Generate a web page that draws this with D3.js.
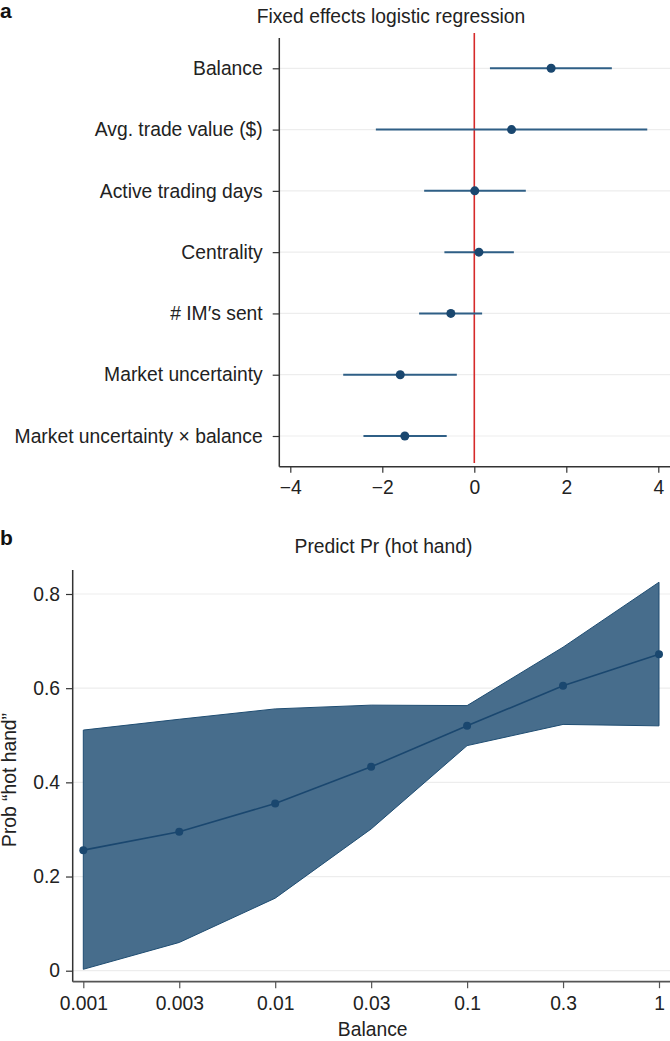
<!DOCTYPE html>
<html><head><meta charset="utf-8">
<script src="https://cdn.jsdelivr.net/npm/d3@7"></script>
<style>
body{margin:0;background:#fff;}
svg{display:block;font-family:"Liberation Sans",Arial,Helvetica,sans-serif;}
</style></head>
<body><svg id="c" width="670" height="1041"></svg>
<script>
// Panel a data
const variables = ["Balance","Avg. trade value ($)","Active trading days","Centrality","# IM\u2032s sent","Market uncertainty","Market uncertainty \u00d7 balance"];
const coef  = [1.67, 0.81, 0.01, 0.10, -0.51, -1.61, -1.51];
const ciLow = [0.34, -2.14, -1.09, -0.65, -1.20, -2.85, -2.41];
const ciHigh= [2.99, 3.76, 1.12, 0.86, 0.17, -0.38, -0.60];
const coefTicks = [-4,-2,0,2,4];

// Panel b data
const balanceLevels = ["0.001","0.003","0.01","0.03","0.1","0.3","1"];
const probHot = [0.256,0.295,0.355,0.433,0.520,0.605,0.672];
const probUpper = [0.511,0.534,0.556,0.564,0.563,0.687,0.825];
const probLower = [0.003,0.060,0.154,0.301,0.478,0.523,0.520];
const probTicks = [0,0.2,0.4,0.6,0.8];

const svg = d3.select("#c");
const FS = 19.3;
const txt = "#222";
const navy = "#1a476f";
const grid = "#ededed";

// ---------- Panel a ----------
const xa = d3.scaleLinear().domain([-4,4]).range([290.3,658.3]);
const ya = d3.scalePoint().domain(variables).range([68.3,436]);
const aLeft = 279.3, aTop = 38, aBottom = 466.7, aRight = 670;

svg.append("text").attr("x",0).attr("y",18).attr("font-size",21).attr("font-weight","bold").attr("fill","#111").text("a");
svg.append("text").attr("x",391).attr("y",23).attr("text-anchor","middle").attr("font-size",FS).attr("fill",txt).text("Fixed effects logistic regression");

const ga = svg.append("g");
ga.selectAll("line.grid").data(variables).join("line")
  .attr("x1",aLeft).attr("x2",aRight).attr("y1",d=>ya(d)).attr("y2",d=>ya(d))
  .attr("stroke",grid).attr("stroke-width",1.2);

// red zero line
ga.append("line").attr("x1",xa(0)).attr("x2",xa(0)).attr("y1",33).attr("y2",463)
  .attr("stroke","#d62a2a").attr("stroke-width",1.6);

// y axis
const yAxA = d3.axisLeft(ya).tickSize(6.6).tickPadding(10);
const gya = ga.append("g").attr("transform",`translate(${aLeft},0)`).call(yAxA);
gya.select(".domain").remove();
gya.selectAll(".tick line").attr("stroke","#333").attr("stroke-width",1.2);
gya.selectAll(".tick text").attr("font-size",FS).attr("fill",txt).attr("font-family","Liberation Sans, Arial, sans-serif");
ga.append("line").attr("x1",aLeft).attr("x2",aLeft).attr("y1",aTop).attr("y2",aBottom).attr("stroke","#333").attr("stroke-width",1.5);

// x axis
const xAxA = d3.axisBottom(xa).tickValues(coefTicks).tickSize(6).tickPadding(8).tickFormat(d=> d<0 ? "\u2212"+Math.abs(d) : String(d));
const gxa = ga.append("g").attr("transform",`translate(0,${aBottom})`).call(xAxA);
gxa.select(".domain").remove();
gxa.selectAll(".tick line").attr("stroke","#333").attr("stroke-width",1.2);
gxa.selectAll(".tick text").attr("font-size",FS).attr("fill",txt).attr("font-family","Liberation Sans, Arial, sans-serif");
ga.append("line").attr("x1",aLeft).attr("x2",aRight).attr("y1",aBottom).attr("y2",aBottom).attr("stroke","#333").attr("stroke-width",1.5);

// CIs and points
ga.selectAll("line.ci").data(variables).join("line")
  .attr("x1",(d,i)=>xa(ciLow[i])).attr("x2",(d,i)=>xa(ciHigh[i]))
  .attr("y1",d=>ya(d)).attr("y2",d=>ya(d))
  .attr("stroke","#2f5f86").attr("stroke-width",2);
ga.selectAll("circle.pt").data(variables).join("circle")
  .attr("cx",(d,i)=>xa(coef[i])).attr("cy",d=>ya(d)).attr("r",4.5).attr("fill",navy);

// ---------- Panel b ----------
const xb = d3.scalePoint().domain(balanceLevels).range([83.3,659]);
const yb = d3.scaleLinear().domain([0,0.8]).range([970.7,594]);
const bLeft = 72.7, bTop = 570, bBottom = 981.7, bRight = 670;

svg.append("text").attr("x",0).attr("y",545).attr("font-size",21).attr("font-weight","bold").attr("fill","#111").text("b");
svg.append("text").attr("x",383.5).attr("y",553).attr("text-anchor","middle").attr("font-size",FS).attr("fill",txt).text("Predict Pr (hot hand)");

const gb = svg.append("g");
gb.selectAll("line.grid").data(probTicks).join("line")
  .attr("x1",bLeft).attr("x2",bRight).attr("y1",d=>yb(d)).attr("y2",d=>yb(d))
  .attr("stroke",grid).attr("stroke-width",1.2);

const bandData = balanceLevels.map((b,i)=>({b, lo:probLower[i], hi:probUpper[i], p:probHot[i]}));
gb.append("path").datum(bandData)
  .attr("d", d3.area().x(d=>xb(d.b)).y0(d=>yb(d.lo)).y1(d=>yb(d.hi)))
  .attr("fill","#476d8c").attr("stroke","#1f4d72").attr("stroke-width",1);
gb.append("path").datum(bandData)
  .attr("d", d3.line().x(d=>xb(d.b)).y(d=>yb(d.p)))
  .attr("fill","none").attr("stroke",navy).attr("stroke-width",1.6);
gb.selectAll("circle").data(bandData).join("circle")
  .attr("cx",d=>xb(d.b)).attr("cy",d=>yb(d.p)).attr("r",4).attr("fill",navy);

const yAxB = d3.axisLeft(yb).tickValues(probTicks).tickSize(6.7).tickPadding(6).tickFormat(d=> d===0 ? "0" : d3.format(".1f")(d));
const gyb = gb.append("g").attr("transform",`translate(${bLeft},0)`).call(yAxB);
gyb.select(".domain").remove();
gyb.selectAll(".tick line").attr("stroke","#333").attr("stroke-width",1.2);
gyb.selectAll(".tick text").attr("font-size",FS).attr("fill",txt).attr("font-family","Liberation Sans, Arial, sans-serif");
gb.append("line").attr("x1",bLeft).attr("x2",bLeft).attr("y1",bTop).attr("y2",bBottom).attr("stroke","#333").attr("stroke-width",1.5);

const xAxB = d3.axisBottom(xb).tickSize(6.5).tickPadding(8);
const gxb = gb.append("g").attr("transform",`translate(0,${bBottom})`).call(xAxB);
gxb.select(".domain").remove();
gxb.selectAll(".tick line").attr("stroke","#555").attr("stroke-width",1.2);
gxb.selectAll(".tick text").attr("font-size",FS).attr("fill",txt).attr("font-family","Liberation Sans, Arial, sans-serif");
gb.append("line").attr("x1",bLeft).attr("x2",bRight).attr("y1",bBottom).attr("y2",bBottom).attr("stroke","#555").attr("stroke-width",1.8);

svg.append("text").attr("x",372.7).attr("y",1036).attr("text-anchor","middle").attr("font-size",FS).attr("fill",txt).text("Balance");
svg.append("text").attr("transform","translate(16,780) rotate(-90)").attr("text-anchor","middle").attr("font-size",FS).attr("fill",txt).text("Prob \u201chot hand\u201d");
</script></body></html>
